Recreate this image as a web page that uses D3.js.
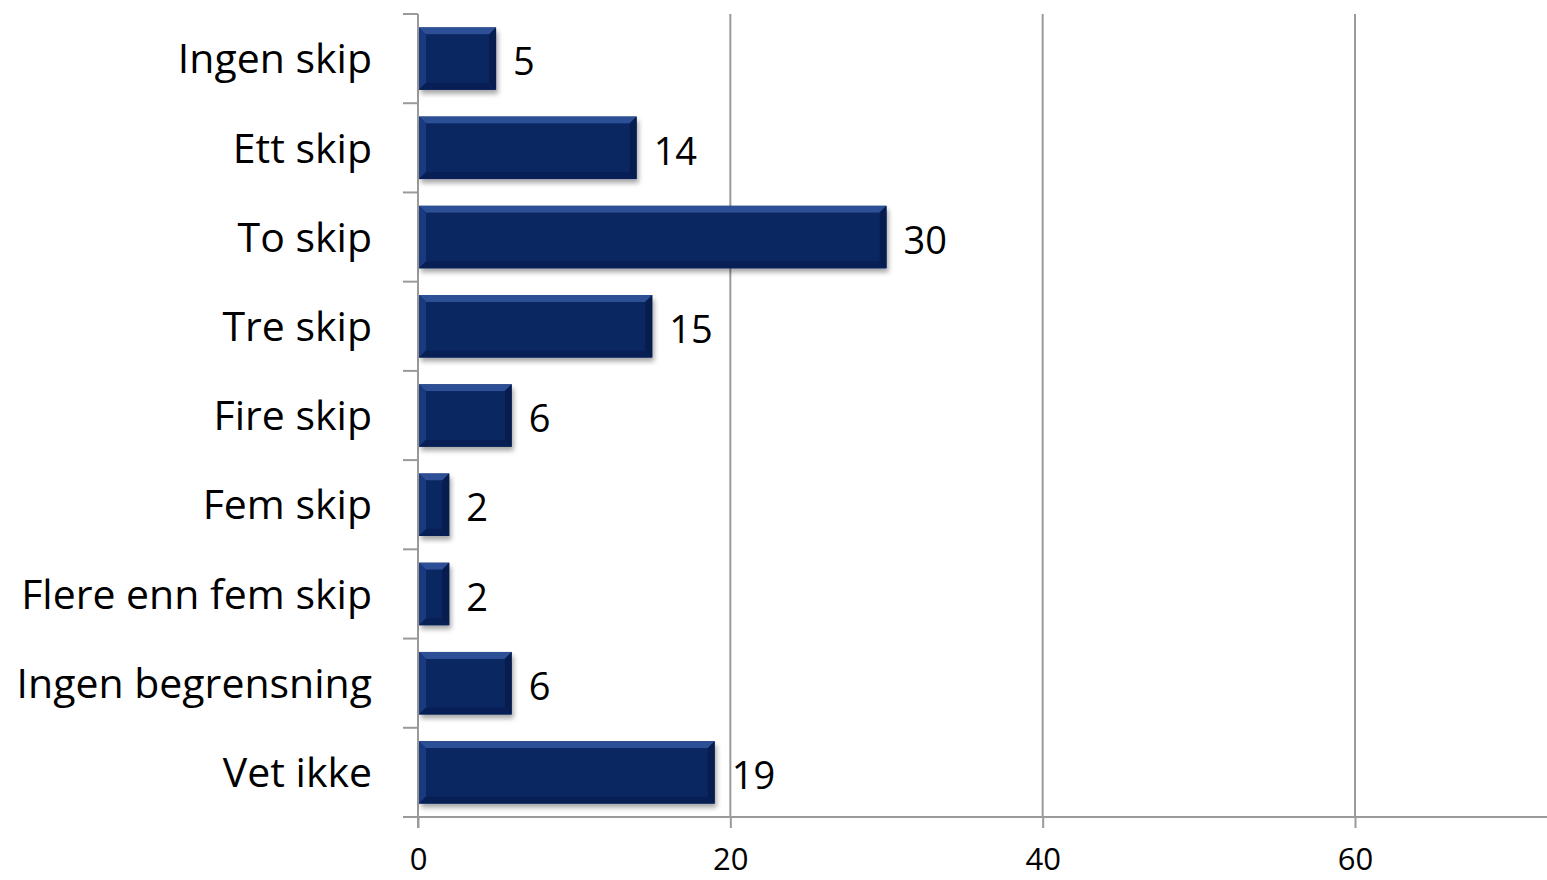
<!DOCTYPE html>
<html><head><meta charset="utf-8">
<script src="https://cdn.jsdelivr.net/npm/d3@7"></script>
<style>body{margin:0;background:#fff}svg{display:block}</style>
</head><body>
<script>
const categories = ["Ingen skip","Ett skip","To skip","Tre skip","Fire skip","Fem skip","Flere enn fem skip","Ingen begrensning","Vet ikke"];
const values = [5,14,30,15,6,2,2,6,19];
const xTicks = [0,20,40,60];

const W = 1547, H = 880;
const svg = d3.select("body").append("svg").attr("width",W).attr("height",H);
const font = "'Open Sans', Lato, sans-serif";

const x = d3.scaleLinear().domain([0,60]).range([418,1355]);
const y = d3.scaleBand().domain(categories).range([14,817]).paddingInner(0.3).paddingOuter(0.15);
const yOuter = d3.scaleBand().domain(categories).range([14,817]);

const defs = svg.append("defs");
const f = defs.append("filter").attr("id","sh").attr("x","-10%").attr("y","-20%").attr("width","130%").attr("height","160%");
f.append("feGaussianBlur").attr("in","SourceAlpha").attr("stdDeviation",2.5).attr("result","b");
f.append("feOffset").attr("in","b").attr("dx",2).attr("dy",4).attr("result","o");
f.append("feComponentTransfer").attr("in","o").attr("result","oa").append("feFuncA").attr("type","linear").attr("slope",0.35);
const m = f.append("feMerge"); m.append("feMergeNode").attr("in","oa"); m.append("feMergeNode").attr("in","SourceGraphic");

// gridlines
svg.append("g").selectAll("line").data(xTicks.filter(d=>d>0)).join("line")
  .attr("x1",d=>x(d)).attr("x2",d=>x(d)).attr("y1",14).attr("y2",817)
  .attr("stroke","#9a9a9a").attr("stroke-width",2);

// x axis
const xa = svg.append("g").attr("transform","translate(0,817)")
  .call(d3.axisBottom(x).tickValues(xTicks).tickSize(11).tickSizeOuter(0).tickPadding(20));
xa.select(".domain").remove();
xa.selectAll(".tick line").attr("stroke","#9a9a9a").attr("stroke-width",2);
xa.selectAll("text").attr("font-family",font).attr("font-size",31).attr("fill","#000");
svg.append("line").attr("x1",403).attr("x2",W).attr("y1",817).attr("y2",817).attr("stroke","#9a9a9a").attr("stroke-width",2);

// y axis
svg.append("line").attr("x1",418).attr("x2",418).attr("y1",14).attr("y2",828).attr("stroke","#9a9a9a").attr("stroke-width",2);
const yTickPos = categories.map(c=>yOuter(c)).concat([817]);
svg.append("g").selectAll("line").data(yTickPos).join("line")
  .attr("x1",403).attr("x2",418).attr("y1",d=>d).attr("y2",d=>d)
  .attr("stroke","#9a9a9a").attr("stroke-width",2);
svg.append("g").selectAll("text").data(categories).join("text")
  .attr("x",372).attr("y",c=>y(c)+y.bandwidth()/2).attr("dy","0.36em")
  .attr("text-anchor","end").attr("font-family",font).attr("font-size",41).attr("fill","#000")
  .text(c=>c);

// bars
const bars = svg.append("g").selectAll("g").data(categories.map((c,i)=>({c,v:values[i]}))).join("g");
bars.append("rect").attr("x",x(0)+1).attr("y",d=>y(d.c)).attr("width",d=>x(d.v)-x(0)-1).attr("height",y.bandwidth())
  .attr("fill","#0a2762").attr("filter","url(#sh)");
const bv = 7;
bars.append("path").attr("d",d=>{const x0=x(0)+1,x1=x(d.v),y0=y(d.c);return `M${x0},${y0}L${x1},${y0}L${x1-bv},${y0+bv}L${x0+bv},${y0+bv}Z`;})
  .attr("fill","#2d4f95");
bars.append("path").attr("d",d=>{const x0=x(0)+1,y0=y(d.c),y1=y0+y.bandwidth();return `M${x0},${y0}L${x0+bv},${y0+bv}L${x0+bv},${y1-bv}L${x0},${y1}Z`;})
  .attr("fill","#1a3a80");
bars.append("path").attr("d",d=>{const x1=x(d.v),y0=y(d.c),y1=y0+y.bandwidth();return `M${x1},${y0}L${x1},${y1}L${x1-bv},${y1-bv}L${x1-bv},${y0+bv}Z`;})
  .attr("fill","#061d4e");
bars.append("path").attr("d",d=>{const x0=x(0)+1,x1=x(d.v),y1=y(d.c)+y.bandwidth();return `M${x0},${y1}L${x1},${y1}L${x1-bv},${y1-bv}L${x0+bv},${y1-bv}Z`;})
  .attr("fill","#071f55");
bars.append("rect").attr("x",d=>x(0)+1+bv).attr("y",d=>y(d.c)+bv).attr("width",d=>Math.max(0,x(d.v)-x(0)-1-2*bv)).attr("height",y.bandwidth()-2*bv)
  .attr("fill","#0a2762");
bars.append("text").attr("x",d=>x(d.v)+17).attr("y",d=>y(d.c)+y.bandwidth()/2+3).attr("dy","0.36em")
  .attr("font-family",font).attr("font-size",38).attr("fill","#000").text(d=>d.v);
</script>
</body></html>
